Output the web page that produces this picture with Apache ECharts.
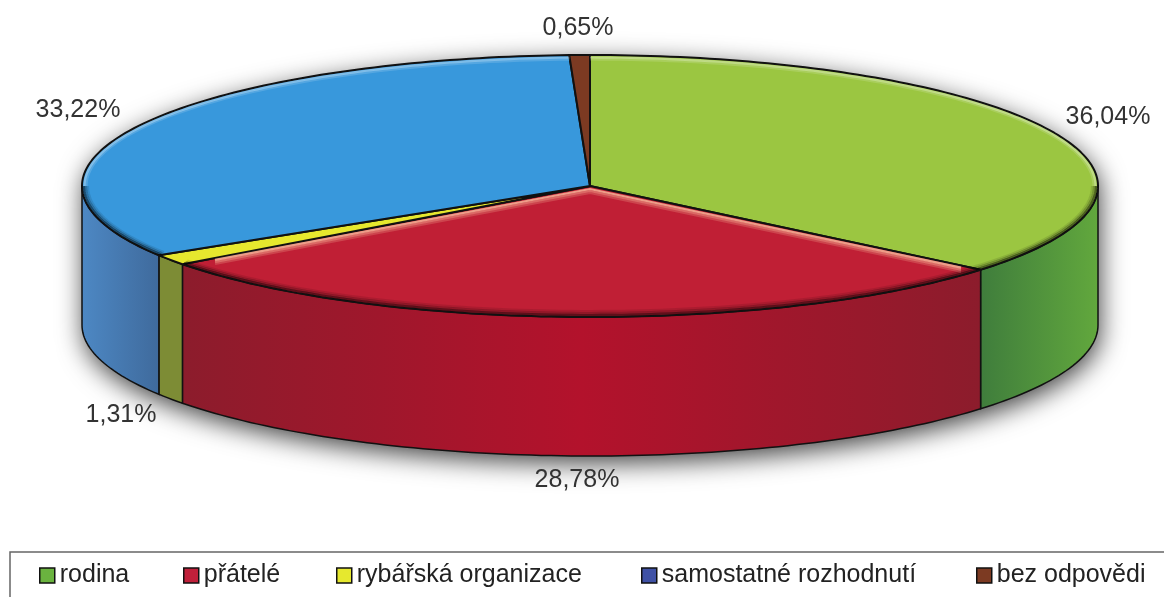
<!DOCTYPE html>
<html>
<head>
<meta charset="utf-8">
<style>
  html, body { margin: 0; padding: 0; background: #fff; }
  #chart { width: 1164px; height: 597px; }
</style>
<script src="https://cdn.jsdelivr.net/npm/echarts@6/dist/echarts.min.js"></script>
</head>
<body>
<div id="chart"></div>
<script>
// poradi = od 12 hodin po smeru hodin
const categories = ["rodina", "přátelé", "rybářská organizace", "samostatné rozhodnutí", "bez odpovědi"];
const values = [36.04, 28.78, 1.31, 33.22, 0.65];
const percentLabels = ["36,04%", "28,78%", "1,31%", "33,22%", "0,65%"];
const legendColors = ["#6ab33f", "#c0203a", "#e6e82e", "#3f51a5", "#7c3a22"];
const topColors = ["#9bc641", "#c01f35", "#e6e82e", "#3898dc", "#7c3a22"];
// bocni stena: prechod zleva doprava
const sideColors = [
  ["#3f7d3c", "#62a83d"],
  ["#8c1c2c", "#b3122c", "#8c1c2c"],
  ["#7d8c35", "#7d8c35"],
  ["#4d88c4", "#3f6a9c"],
  ["#5e2c1a", "#5e2c1a"]
];
const labelPos = [[1108, 117], [577, 480], [121, 415], [78, 110], [578, 28]];
const legendLeft = [39, 183, 336, 641, 976];

const cx = 590, cy = 186, rx = 508, ry = 131, depth = 139;
const total = values.reduce((a, b) => a + b, 0);
const FRONT0 = Math.PI / 2, FRONT1 = Math.PI * 1.5;

const chart = echarts.init(document.getElementById("chart"));

function pt(a, dy, inset) {
  const k = inset || 0;
  return [cx + (rx - k) * Math.sin(a), cy - (ry - k) * Math.cos(a) + (dy || 0)];
}

function arcPoints(a0, a1, dy, inset) {
  const n = Math.max(2, Math.ceil(Math.abs(a1 - a0) / 0.02));
  const pts = [];
  for (let i = 0; i <= n; i++) pts.push(pt(a0 + (a1 - a0) * i / n, dy, inset));
  return pts;
}

// bod na polomeru, t = 0 stred, t = 1 okraj
function radial(a, t, dy) {
  return [cx + rx * t * Math.sin(a), cy - ry * t * Math.cos(a) + dy];
}

function rimLine(a0, a1, inset, color, z2) {
  return {
    type: "polyline",
    z2: z2,
    shape: { points: arcPoints(a0, a1, 0, inset) },
    style: { stroke: color, lineWidth: 2.2, fill: null }
  };
}

function sliceAngles(idx) {
  let a0 = 0;
  for (let i = 0; i < idx; i++) a0 += values[i] / total * Math.PI * 2;
  return [a0, a0 + values[idx] / total * Math.PI * 2];
}

function renderSlice(idx) {
  return function () {
    const [a0, a1] = sliceAngles(idx);
    const children = [];
    const s0 = Math.max(a0, FRONT0);
    const s1 = Math.min(a1, FRONT1);

    // bocni stena jen na predni polovine
    if (s1 > s0) {
      const stops = sideColors[idx].map((c, k, arr) => ({ offset: k / (arr.length - 1), color: c }));
      children.push({
        type: "polygon",
        z2: 1,
        shape: { points: arcPoints(s0, s1, 0).concat(arcPoints(s1, s0, depth)) },
        style: {
          fill: new echarts.graphic.LinearGradient(0, 0, 1, 0, stops),
          stroke: "#111",
          lineWidth: 1.5
        }
      });
    }

    // horni plocha
    children.push({
      type: "polygon",
      z2: 5,
      shape: { points: [[cx, cy]].concat(arcPoints(a0, a1, 0)) },
      style: { fill: topColors[idx], stroke: "#111", lineWidth: 2, lineJoin: "round" }
    });

    // tmavy okraj vpredu, svetly vzadu
    if (s1 > s0 && idx !== 2) {
      children.push(rimLine(s0, s1, 2, "rgba(0,0,0,0.5)", 6));
      children.push(rimLine(s0, s1, 4, "rgba(0,0,0,0.25)", 6));
      children.push(rimLine(s0, s1, 6, "rgba(0,0,0,0.1)", 6));
    }
    const backParts = [[a0, Math.min(a1, FRONT0)], [Math.max(a0, FRONT1), a1]];
    backParts.forEach(function (p) {
      if (p[1] > p[0] && idx !== 4) {
        children.push(rimLine(p[0], p[1], 2.5, "rgba(255,255,255,0.35)", 6));
        children.push(rimLine(p[0], p[1], 4.5, "rgba(255,255,255,0.15)", 6));
      }
    });

    // cervena vysec ma u stredu svetly pruh
    if (idx === 1) {
      [[2, 0.85], [4, 0.5], [6, 0.25]].forEach(function (h) {
        children.push({
          type: "polyline",
          z2: 6,
          shape: { points: [radial(a0, 0.95, h[0]), [cx, cy + h[0] + 1], radial(a1, 0.92, h[0])] },
          style: { stroke: "rgba(245,180,150," + h[1] + ")", lineWidth: 2.2, fill: null }
        });
      });
    }

    children.push({
      type: "text",
      z2: 10,
      style: {
        x: labelPos[idx][0],
        y: labelPos[idx][1],
        text: percentLabels[idx],
        fill: "#333",
        font: "25px 'Liberation Sans'",
        align: "center",
        verticalAlign: "middle"
      }
    });
    return { type: "group", children: children };
  };
}

// stin pod celym kolacem
function renderShadow() {
  return {
    type: "polygon",
    shape: { points: arcPoints(0, FRONT0, 0).concat(arcPoints(FRONT0, FRONT1, depth), arcPoints(FRONT1, Math.PI * 2, 0)) },
    style: {
      fill: "#888",
      shadowBlur: 26,
      shadowColor: "rgba(0,0,0,0.75)",
      shadowOffsetX: 2,
      shadowOffsetY: 7
    }
  };
}

const option = {
  animation: false,
  backgroundColor: "#fff",
  graphic: [{
    type: "rect",
    z: -1,
    shape: { x: 10, y: 552, width: 1170, height: 70 },
    style: { fill: "#fff", stroke: "#666", lineWidth: 1.5 }
  }],
  legend: categories.map((name, i) => ({
    data: [name],
    left: legendLeft[i],
    top: 563,
    padding: 0,
    itemWidth: 15,
    itemHeight: 15,
    itemGap: 0,
    icon: "rect",
    itemStyle: { borderColor: "#111", borderWidth: 1.5 },
    textStyle: { fontFamily: "Liberation Sans", fontSize: 25, color: "#222", padding: [0, 0, 2, 0] }
  })),
  series: [{
    type: "custom",
    name: "stin",
    coordinateSystem: "none",
    silent: true,
    z: 1,
    data: [total],
    renderItem: renderShadow
  }].concat(categories.map((name, i) => ({
    type: "custom",
    name: name,
    coordinateSystem: "none",
    silent: true,
    z: 2,
    itemStyle: { color: legendColors[i] },
    data: [values[i]],
    renderItem: renderSlice(i)
  })))
};

chart.setOption(option);
</script>
</body>
</html>
